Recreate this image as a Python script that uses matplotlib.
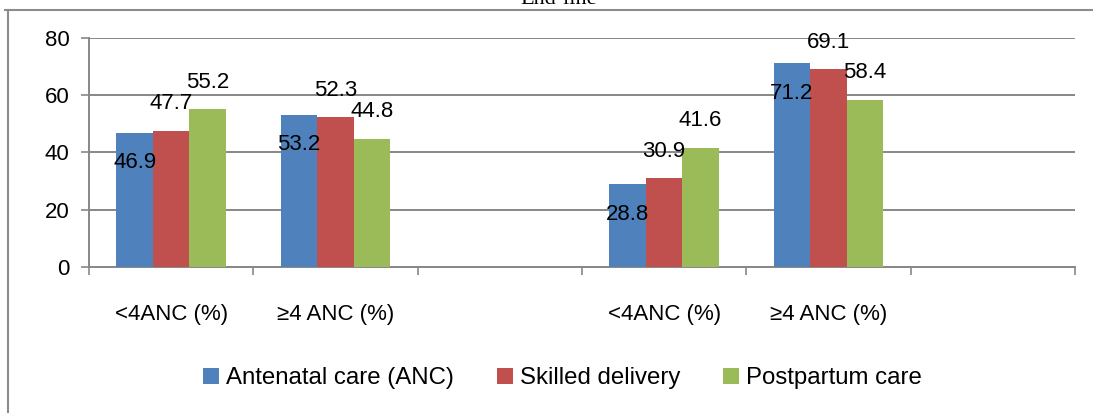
import matplotlib
matplotlib.use("Agg")
import matplotlib.pyplot as plt
import numpy as np
from matplotlib.lines import Line2D
from matplotlib.patches import Patch

categories = ["<4ANC (%)", "\u22654 ANC (%)", "", "<4ANC (%)", "\u22654 ANC (%)", ""]
series_names = ["Antenatal care (ANC)", "Skilled delivery", "Postpartum care"]
anc = [46.9, 53.2, None, 28.8, 71.2, None]
skilled = [47.7, 52.3, None, 30.9, 69.1, None]
postpartum = [55.2, 44.8, None, 41.6, 58.4, None]
yticks = [0, 20, 40, 60, 80]
title_text = "End-line"

colors = ["#4F81BD", "#C0504D", "#9BBB59"]
label_offsets_px = [-30, 27, 27]   # vertical offset of value labels from bar tops
grid_col = "#878787"
FONT = "Liberation Sans"
FS = 16

W, H = 1093, 413
fig = plt.figure(figsize=(W / 100, H / 100), dpi=100)
ax = fig.add_axes([89 / W, 1 - 266.7 / H, 986 / W, 228.4 / H])

x = np.arange(len(categories))
bw = 0.222
for i, (vals, col, off) in enumerate(zip([anc, skilled, postpartum], colors, label_offsets_px)):
    xs = [xi + (i - 1) * bw for xi, v in zip(x, vals) if v is not None]
    vs = [v for v in vals if v is not None]
    ax.bar(xs, vs, width=bw, color=col, zorder=3, edgecolor="none")
    for xv, v in zip(xs, vs):
        ax.annotate(f"{v:.1f}", (xv, v), xytext=(0, off), textcoords="offset pixels",
                    ha="center", va="center", fontsize=FS, family=FONT, zorder=5)

ax.set_xlim(-0.5, len(categories) - 0.5)
ax.set_ylim(0, 80)
ax.set_yticks(yticks)
ax.set_yticklabels([str(t) for t in yticks], fontsize=FS, family=FONT)
ax.yaxis.grid(True, color=grid_col, linewidth=1.4, zorder=0)
ax.set_axisbelow(True)

ax.set_xticks(np.arange(-0.5, len(categories), 1.0))
ax.set_xticklabels([])
ax.set_xticks(x, minor=True)
ax.set_xticklabels(categories, minor=True, fontsize=FS, family=FONT)
ax.tick_params(axis="x", which="minor", length=0, pad=27)
ax.tick_params(axis="x", which="major", length=6, width=1.2, color=grid_col, direction="out")
ax.tick_params(axis="y", length=6, width=1.2, color=grid_col, direction="out", pad=8)

for s in ["top", "right"]:
    ax.spines[s].set_visible(False)
for s in ["left", "bottom"]:
    ax.spines[s].set_color(grid_col)
    ax.spines[s].set_linewidth(1.4)

handles = [Patch(facecolor=c, edgecolor="none") for c in colors]
fig.legend(handles, series_names, loc="center", bbox_to_anchor=(562.5 / W, 1 - 378 / H),
           ncol=3, frameon=False, prop={"family": FONT, "size": 17.3},
           handlelength=0.65, handleheight=0.65, handletextpad=0.3, columnspacing=1.8)

# outer chart frame (partially visible)
fig.add_artist(Line2D([5 / W, 1.0], [1 - 10 / H] * 2, transform=fig.transFigure,
                      color="#8c8c8c", linewidth=1.5))
fig.add_artist(Line2D([8 / W] * 2, [0, 1 - 10 / H], transform=fig.transFigure,
                      color="#8c8c8c", linewidth=1.5))

fig.text(559 / W, 1 - 4 / H, title_text, ha="center", va="baseline",
         family="Liberation Serif", fontsize=16)

fig.savefig("out.png", dpi=100)
